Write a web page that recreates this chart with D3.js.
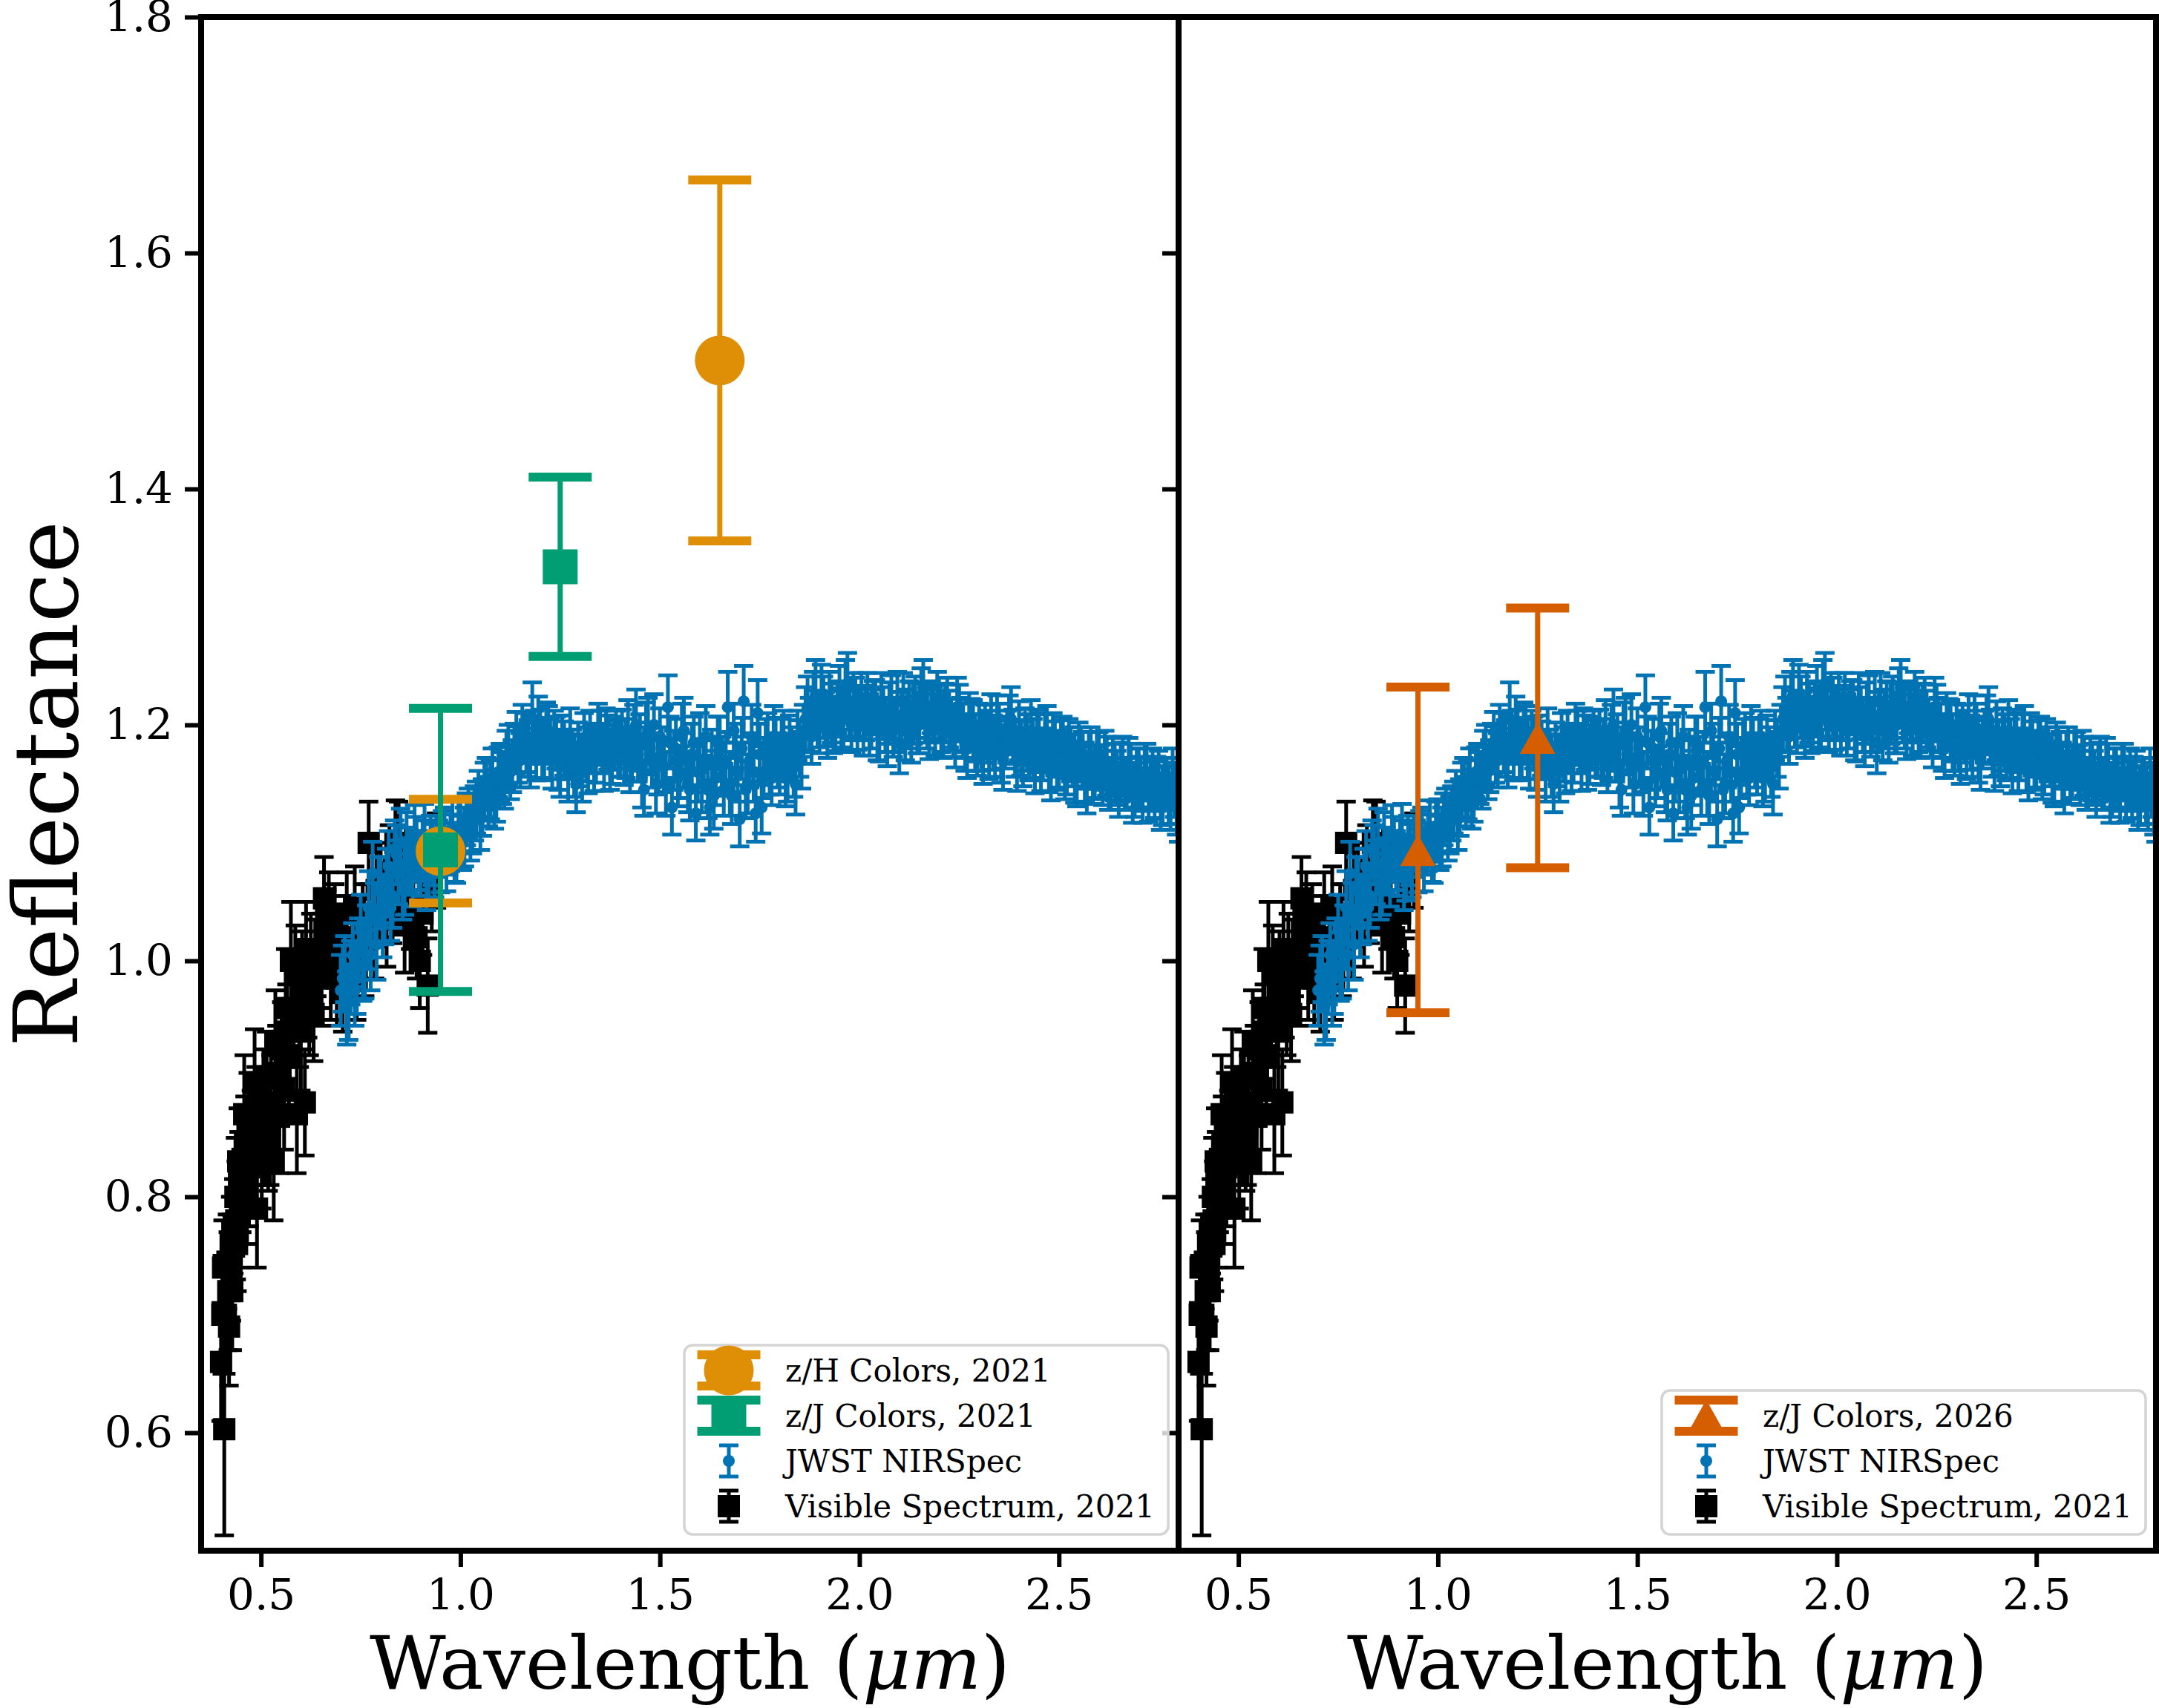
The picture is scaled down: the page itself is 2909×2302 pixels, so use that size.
<!DOCTYPE html>
<html>
<head>
<meta charset="utf-8">
<script src="https://cdn.jsdelivr.net/npm/d3@7"></script>
<style>
  body { margin: 0; background: #fff; }
  svg { display: block; font-family: "DejaVu Serif", serif; }
</style>
</head>
<body>
<svg id="chart" width="2909" height="2302"></svg>
<script>
// ---------- data ----------
// JWST NIRSpec spectrum (blue), whole-step channels
var blueWave = [
  0.70,0.71,0.72,0.73,0.74,0.75,0.76,0.77,0.78,0.79,
  0.80,0.81,0.82,0.83,0.84,0.85,0.86,0.87,0.88,0.89,
  0.90,0.91,0.92,0.93,0.94,0.95,0.96,0.97,0.98,0.99,
  1.00,1.01,1.02,1.03,1.04,1.05,1.06,1.07,1.08,1.09,
  1.10,1.11,1.12,1.13,1.14,1.15,1.16,1.17,1.18,1.19,
  1.20,1.21,1.22,1.23,1.24,1.25,1.26,1.27,1.28,1.29,
  1.30,1.31,1.32,1.33,1.34,1.35,1.36,1.37,1.38,1.39,
  1.40,1.41,1.42,1.43,1.44,1.45,1.46,1.47,1.48,1.49,
  1.50,1.51,1.52,1.53,1.54,1.55,1.56,1.57,1.58,1.59,
  1.60,1.61,1.62,1.63,1.64,1.65,1.66,1.67,1.68,1.69,
  1.70,1.71,1.72,1.73,1.74,1.75,1.76,1.77,1.78,1.79,
  1.80,1.81,1.82,1.83,1.84,1.85,1.86,1.87,1.88,1.89,
  1.90,1.91,1.92,1.93,1.94,1.95,1.96,1.97,1.98,1.99,
  2.00,2.01,2.02,2.03,2.04,2.05,2.06,2.07,2.08,2.09,
  2.10,2.11,2.12,2.13,2.14,2.15,2.16,2.17,2.18,2.19,
  2.20,2.21,2.22,2.23,2.24,2.25,2.26,2.27,2.28,2.29,
  2.30,2.31,2.32,2.33,2.34,2.35,2.36,2.37,2.38,2.39,
  2.40,2.41,2.42,2.43,2.44,2.45,2.46,2.47,2.48,2.49,
  2.50,2.51,2.52,2.53,2.54,2.55,2.56,2.57,2.58,2.59,
  2.60,2.61,2.62,2.63,2.64,2.65,2.66,2.67,2.68,2.69,
  2.70,2.71,2.72,2.73,2.74,2.75,2.76,2.77,2.78,2.79,
  2.80
];
var blueRefl = [
  0.975,0.993,0.965,1.005,0.985,1.030,0.997,1.045,1.074,1.014,
  1.060,1.040,1.080,1.055,1.090,1.100,1.065,1.085,1.070,1.095,
  1.080,1.105,1.075,1.090,1.100,1.085,1.105,1.095,1.110,1.090,
  1.115,1.105,1.125,1.115,1.130,1.120,1.145,1.135,1.155,1.140,
  1.160,1.150,1.175,1.165,1.185,1.170,1.190,1.180,1.205,1.175,
  1.190,1.180,1.195,1.170,1.185,1.165,1.180,1.160,1.175,1.150,
  1.170,1.185,1.165,1.180,1.175,1.190,1.170,1.185,1.175,1.190,
  1.180,1.170,1.195,1.175,1.200,1.185,1.145,1.195,1.170,1.150,
  1.190,1.165,1.215,1.130,1.180,1.160,1.195,1.150,1.175,1.125,
  1.185,1.165,1.145,1.170,1.155,1.180,1.145,1.215,1.140,1.175,
  1.120,1.220,1.150,1.190,1.125,1.175,1.160,1.185,1.155,1.180,
  1.165,1.190,1.160,1.175,1.150,1.180,1.195,1.215,1.190,1.225,
  1.200,1.215,1.195,1.210,1.200,1.220,1.205,1.235,1.200,1.215,
  1.210,1.200,1.220,1.205,1.215,1.195,1.210,1.190,1.215,1.200,
  1.185,1.220,1.205,1.190,1.215,1.200,1.232,1.205,1.215,1.200,
  1.210,1.195,1.215,1.200,1.190,1.210,1.195,1.180,1.200,1.185,
  1.195,1.175,1.190,1.200,1.180,1.195,1.170,1.190,1.205,1.180,
  1.195,1.170,1.185,1.195,1.165,1.185,1.175,1.190,1.160,1.180,
  1.170,1.185,1.165,1.175,1.160,1.180,1.170,1.150,1.175,1.160,
  1.170,1.155,1.165,1.150,1.160,1.145,1.165,1.150,1.160,1.145,
  1.155,1.140,1.160,1.150,1.145,1.155,1.140,1.150,1.135,1.145,
  1.125
];
var blueErr = [
  0.030,0.028,0.032,0.027,0.030,0.026,0.029,0.031,0.027,0.030,
  0.028,0.026,0.030,0.027,0.025,0.029,0.026,0.028,0.024,0.027,
  0.025,0.028,0.024,0.026,0.023,0.027,0.025,0.022,0.026,0.024,
  0.022,0.025,0.021,0.024,0.022,0.026,0.023,0.021,0.025,0.022,
  0.024,0.021,0.025,0.022,0.026,0.023,0.021,0.024,0.031,0.022,
  0.023,0.025,0.021,0.024,0.022,0.026,0.023,0.025,0.021,0.024,
  0.022,0.025,0.023,0.021,0.024,0.022,0.026,0.023,0.025,0.022,
  0.024,0.021,0.026,0.023,0.030,0.024,0.022,0.028,0.023,0.025,
  0.024,0.022,0.027,0.023,0.025,0.022,0.028,0.024,0.026,0.023,
  0.025,0.022,0.024,0.026,0.023,0.027,0.022,0.030,0.024,0.026,
  0.023,0.030,0.025,0.027,0.024,0.026,0.022,0.025,0.023,0.026,
  0.024,0.022,0.025,0.023,0.026,0.024,0.022,0.026,0.023,0.030,
  0.024,0.026,0.023,0.025,0.022,0.030,0.024,0.026,0.023,0.025,
  0.022,0.026,0.024,0.025,0.023,0.026,0.022,0.025,0.027,0.023,
  0.026,0.024,0.025,0.022,0.026,0.024,0.023,0.025,0.022,0.026,
  0.024,0.023,0.025,0.022,0.026,0.024,0.023,0.025,0.022,0.024,
  0.023,0.025,0.022,0.026,0.024,0.023,0.025,0.022,0.027,0.024,
  0.025,0.022,0.024,0.026,0.023,0.025,0.022,0.026,0.024,0.023,
  0.025,0.022,0.024,0.023,0.026,0.022,0.024,0.025,0.023,0.022,
  0.024,0.023,0.025,0.022,0.024,0.023,0.025,0.022,0.024,0.023,
  0.025,0.023,0.024,0.022,0.024,0.023,0.025,0.022,0.024,0.023,
  0.024
];

// JWST NIRSpec, half-step channels
var blueWave2 = [
  0.705,0.715,0.725,0.735,0.745,0.755,0.765,0.775,0.785,0.795,
  0.805,0.815,0.825,0.835,0.845,0.855,0.865,0.875,0.885,0.895,
  0.905,0.915,0.925,0.935,0.945,0.955,0.965,0.975,0.985,0.995,
  1.005,1.015,1.025,1.035,1.045,1.055,1.065,1.075,1.085,1.095,
  1.105,1.115,1.125,1.135,1.145,1.155,1.165,1.175,1.185,1.195,
  1.205,1.215,1.225,1.235,1.245,1.255,1.265,1.275,1.285,1.295,
  1.305,1.315,1.325,1.335,1.345,1.355,1.365,1.375,1.385,1.395,
  1.405,1.415,1.425,1.435,1.445,1.455,1.465,1.475,1.485,1.495,
  1.505,1.515,1.525,1.535,1.545,1.555,1.565,1.575,1.585,1.595,
  1.605,1.615,1.625,1.635,1.645,1.655,1.665,1.675,1.685,1.695,
  1.705,1.715,1.725,1.735,1.745,1.755,1.765,1.775,1.785,1.795,
  1.805,1.815,1.825,1.835,1.845,1.855,1.865,1.875,1.885,1.895,
  1.905,1.915,1.925,1.935,1.945,1.955,1.965,1.975,1.985,1.995,
  2.005,2.015,2.025,2.035,2.045,2.055,2.065,2.075,2.085,2.095,
  2.105,2.115,2.125,2.135,2.145,2.155,2.165,2.175,2.185,2.195,
  2.205,2.215,2.225,2.235,2.245,2.255,2.265,2.275,2.285,2.295,
  2.305,2.315,2.325,2.335,2.345,2.355,2.365,2.375,2.385,2.395,
  2.405,2.415,2.425,2.435,2.445,2.455,2.465,2.475,2.485,2.495,
  2.505,2.515,2.525,2.535,2.545,2.555,2.565,2.575,2.585,2.595,
  2.605,2.615,2.625,2.635,2.645,2.655,2.665,2.675,2.685,2.695,
  2.705,2.715,2.725,2.735,2.745,2.755,2.765,2.775,2.785,2.795
];
var blueRefl2 = [
  0.985,0.960,0.990,0.975,1.010,0.995,1.020,1.005,1.040,1.060,
  1.030,1.070,1.045,1.095,1.075,1.060,1.100,1.080,1.105,1.085,
  1.095,1.070,1.100,1.080,1.095,1.105,1.085,1.100,1.090,1.110,
  1.100,1.120,1.110,1.125,1.140,1.130,1.150,1.145,1.135,1.160,
  1.155,1.170,1.160,1.180,1.175,1.195,1.185,1.170,1.190,1.200,
  1.175,1.195,1.180,1.190,1.170,1.185,1.175,1.190,1.165,1.180,
  1.160,1.175,1.190,1.170,1.195,1.180,1.190,1.170,1.185,1.180,
  1.190,1.180,1.165,1.190,1.175,1.155,1.190,1.180,1.200,1.165,
  1.175,1.150,1.185,1.170,1.155,1.190,1.170,1.145,1.185,1.160,
  1.150,1.190,1.130,1.140,1.185,1.165,1.170,1.150,1.195,1.160,
  1.180,1.145,1.170,1.160,1.210,1.130,1.180,1.165,1.190,1.170,
  1.180,1.155,1.185,1.165,1.190,1.170,1.205,1.200,1.220,1.205,
  1.225,1.205,1.220,1.200,1.215,1.205,1.230,1.210,1.220,1.205,
  1.220,1.210,1.200,1.215,1.195,1.220,1.200,1.210,1.195,1.220,
  1.205,1.195,1.215,1.210,1.200,1.225,1.210,1.195,1.210,1.220,
  1.200,1.210,1.205,1.195,1.215,1.200,1.185,1.205,1.195,1.180,
  1.185,1.195,1.180,1.185,1.200,1.175,1.185,1.200,1.190,1.170,
  1.180,1.190,1.175,1.180,1.190,1.170,1.185,1.165,1.185,1.170,
  1.180,1.160,1.180,1.170,1.155,1.175,1.160,1.170,1.155,1.170,
  1.160,1.170,1.150,1.165,1.155,1.160,1.150,1.165,1.140,1.155,
  1.150,1.160,1.140,1.155,1.150,1.135,1.150,1.140,1.155,1.130
];
var blueErr2 = [
  0.028,0.031,0.027,0.030,0.026,0.029,0.027,0.030,0.026,0.028,
  0.027,0.025,0.028,0.024,0.027,0.025,0.026,0.024,0.027,0.025,
  0.024,0.027,0.023,0.026,0.024,0.022,0.026,0.024,0.023,0.025,
  0.023,0.022,0.025,0.023,0.021,0.024,0.022,0.025,0.023,0.021,
  0.022,0.025,0.023,0.021,0.024,0.022,0.025,0.023,0.022,0.024,
  0.022,0.024,0.026,0.022,0.025,0.023,0.021,0.024,0.026,0.022,
  0.025,0.023,0.022,0.026,0.023,0.021,0.024,0.025,0.022,0.024,
  0.023,0.025,0.022,0.027,0.023,0.025,0.029,0.022,0.026,0.024,
  0.023,0.027,0.022,0.025,0.024,0.028,0.023,0.026,0.022,0.025,
  0.024,0.026,0.023,0.028,0.022,0.025,0.024,0.027,0.023,0.025,
  0.026,0.024,0.023,0.025,0.028,0.022,0.025,0.024,0.026,0.023,
  0.025,0.024,0.023,0.026,0.022,0.024,0.027,0.023,0.025,0.024,
  0.026,0.023,0.025,0.024,0.022,0.026,0.025,0.023,0.024,0.026,
  0.024,0.023,0.026,0.022,0.025,0.024,0.023,0.026,0.022,0.025,
  0.023,0.025,0.022,0.026,0.024,0.023,0.025,0.024,0.022,0.025,
  0.023,0.025,0.024,0.022,0.025,0.023,0.024,0.022,0.026,0.023,
  0.024,0.022,0.026,0.023,0.025,0.024,0.022,0.025,0.023,0.026,
  0.023,0.024,0.022,0.025,0.023,0.026,0.024,0.022,0.025,0.023,
  0.024,0.023,0.025,0.022,0.024,0.023,0.025,0.024,0.022,0.024,
  0.023,0.025,0.022,0.024,0.023,0.025,0.022,0.024,0.023,0.025,
  0.023,0.024,0.022,0.025,0.023,0.024,0.022,0.024,0.025,0.023
];

// visible spectrum 2021 (black)
var visWave = [
  0.400,0.405,0.408,0.412,0.416,0.420,0.424,0.428,0.432,0.436,
  0.440,0.445,0.450,0.455,0.460,0.465,0.470,0.476,0.484,0.490,
  0.495,0.502,0.510,0.518,0.525,0.532,0.540,0.546,0.552,0.558,
  0.565,0.575,0.582,0.590,0.596,0.603,0.610,0.617,0.625,0.632,
  0.640,0.648,0.658,0.665,0.675,0.685,0.695,0.705,0.715,0.728,
  0.740,0.755,0.770,0.785,0.800,0.815,0.830,0.837,0.845,0.860,
  0.875,0.890,0.905,0.918,0.928,0.940
];
var visRefl = [
  0.660,0.740,0.603,0.700,0.745,0.690,0.760,0.720,0.775,0.800,
  0.760,0.815,0.790,0.830,0.845,0.800,0.825,0.850,0.897,0.790,
  0.860,0.830,0.860,0.845,0.880,0.830,0.905,0.870,0.925,0.890,
  0.940,1.000,0.960,0.870,0.950,0.985,0.880,0.975,1.000,0.955,
  1.010,0.985,1.053,1.020,0.990,1.030,1.005,0.975,1.040,1.010,
  0.985,1.030,1.100,1.020,1.060,1.035,1.050,1.100,1.095,1.030,
  1.045,1.020,1.040,0.979,1.060,1.085
];
var visErr = [
  0.05,0.04,0.09,0.05,0.04,0.05,0.04,0.05,0.04,0.05,
  0.04,0.04,0.05,0.04,0.04,0.04,0.05,0.04,0.045,0.05,
  0.04,0.04,0.05,0.04,0.04,0.05,0.04,0.05,0.04,0.05,
  0.04,0.05,0.04,0.05,0.04,0.04,0.045,0.04,0.04,0.04,
  0.04,0.04,0.035,0.04,0.04,0.035,0.04,0.035,0.035,0.035,
  0.035,0.035,0.035,0.035,0.04,0.04,0.035,0.036,0.04,0.04,
  0.035,0.035,0.035,0.04,0.035,0.04
];
// visible spectrum, interleaved channels
var visWave2 = [
  0.403,0.418,0.426,0.438,0.443,0.452,0.458,0.468,0.480,0.488,
  0.506,0.514,0.522,0.536,0.549,0.562,0.570,0.586,0.600,0.613,
  0.621,0.636,0.652,0.670,0.690,0.710,0.735,0.760,0.790,0.822,
  0.852,0.882,0.898
];
var visRefl2 = [
  0.700,0.720,0.740,0.780,0.830,0.810,0.870,0.860,0.830,0.860,
  0.880,0.900,0.860,0.930,0.900,0.960,0.920,0.990,0.940,1.010,
  0.960,0.990,1.000,1.035,0.985,1.020,1.045,1.005,1.060,1.075,
  1.060,1.075,1.000
];
var visErr2 = [
  0.05,0.05,0.045,0.05,0.045,0.04,0.05,0.045,0.04,0.05,
  0.045,0.04,0.05,0.045,0.04,0.05,0.045,0.04,0.05,0.04,
  0.04,0.045,0.04,0.04,0.04,0.035,0.035,0.035,0.035,0.04,
  0.035,0.035,0.04
];

// photometric colors
var zhWave = [0.95, 1.65];
var zhRefl = [1.093, 1.509];
var zhErr = [0.044, 0.153];

var zjWave = [0.95, 1.25];
var zjRefl = [1.094, 1.334];
var zjErr = [0.120, 0.076];

var zj26Wave = [0.95, 1.25];
var zj26Refl = [1.094, 1.189];
var zj26Err = [0.138, 0.110];

var xTicks = [0.5, 1.0, 1.5, 2.0, 2.5];
var yTicks = [0.6, 0.8, 1.0, 1.2, 1.4, 1.6, 1.8];

var legendLeft = ["z/H Colors, 2021", "z/J Colors, 2021", "JWST NIRSpec", "Visible Spectrum, 2021"];
var legendRight = ["z/J Colors, 2026", "JWST NIRSpec", "Visible Spectrum, 2021"];

// colors (seaborn colorblind)
var colors = {
  zh: "#de8f05",
  zj: "#029e73",
  zj26: "#d55e00",
  jwst: "#0173b2",
  vis: "#000000"
};

// marker / bar styles
var styles = {
  vis:  {color: colors.vis,  marker: "square",   size: 30, cap: 26, capW: 5,  lw: 5},
  jwst: {color: colors.jwst, marker: "circle",   size: 16, cap: 26, capW: 5,  lw: 5},
  zh:   {color: colors.zh,   marker: "circle",   size: 67, cap: 85, capW: 12, lw: 7},
  zj:   {color: colors.zj,   marker: "square",   size: 47, cap: 85, capW: 12, lw: 7},
  zj26: {color: colors.zj26, marker: "triangle", size: 48, cap: 85, capW: 12, lw: 7}
};

// merge channels
var visAll = {w: visWave.concat(visWave2), r: visRefl.concat(visRefl2), e: visErr.concat(visErr2)};
var blueAll = {w: blueWave.concat(blueWave2), r: blueRefl.concat(blueRefl2), e: blueErr.concat(blueErr2)};

// ---------- layout ----------
var svg = d3.select("#chart");
var plotTop = 23, plotBottom = 2090;
var panels = [
  {x0: 271, x1: 1588},
  {x0: 1588, x1: 2905}
];

var y = d3.scaleLinear().domain([0.5, 1.8]).range([plotBottom, plotTop]);

svg.append("rect").attr("width", 2909).attr("height", 2302).attr("fill", "#fff");

function drawMarker(g, type, color, cx, cy, size) {
  if (type === "circle") {
    g.append("circle").attr("cx", cx).attr("cy", cy).attr("r", size / 2).attr("fill", color);
  } else if (type === "square") {
    g.append("rect").attr("x", cx - size / 2).attr("y", cy - size / 2)
      .attr("width", size).attr("height", size).attr("fill", color);
  } else {
    var h = size * 0.9;
    g.append("path")
      .attr("d", "M" + cx + "," + (cy - h / 2) + "L" + (cx + size / 2) + "," + (cy + h / 2) +
        "L" + (cx - size / 2) + "," + (cy + h / 2) + "Z")
      .attr("fill", color);
  }
}

function errorbar(g, x, wave, refl, err, st) {
  var idx = d3.range(wave.length);
  var eg = g.append("g");
  eg.selectAll(null).data(idx).join("line")
    .attr("x1", i => x(wave[i])).attr("x2", i => x(wave[i]))
    .attr("y1", i => y(refl[i] - err[i])).attr("y2", i => y(refl[i] + err[i]))
    .attr("stroke", st.color).attr("stroke-width", st.lw);
  [-1, 1].forEach(function(s) {
    eg.selectAll(null).data(idx).join("line")
      .attr("x1", i => x(wave[i]) - st.cap / 2).attr("x2", i => x(wave[i]) + st.cap / 2)
      .attr("y1", i => y(refl[i] + s * err[i])).attr("y2", i => y(refl[i] + s * err[i]))
      .attr("stroke", st.color).attr("stroke-width", st.capW);
  });
  idx.forEach(function(i) {
    drawMarker(eg, st.marker, st.color, x(wave[i]), y(refl[i]), st.size);
  });
}

function legendHandle(g, st, cx, cy) {
  var half = 21;
  g.append("line").attr("x1", cx).attr("x2", cx).attr("y1", cy - half).attr("y2", cy + half)
    .attr("stroke", st.color).attr("stroke-width", st.lw);
  drawMarker(g, st.marker, st.color, cx, cy, st.size);
  [-half, half].forEach(function(d) {
    g.append("line").attr("x1", cx - st.cap / 2).attr("x2", cx + st.cap / 2)
      .attr("y1", cy + d).attr("y2", cy + d)
      .attr("stroke", st.color).attr("stroke-width", st.capW);
  });
}

function legend(labels, keys, right) {
  var rowH = 61, w = 652, bottomY = 2068;
  var h = labels.length * rowH + 11;
  var lx = right - 14 - w, ly = bottomY - h;
  var g = svg.append("g");
  g.append("rect").attr("x", lx).attr("y", ly).attr("width", w).attr("height", h)
    .attr("rx", 11).attr("fill", "#fff").attr("fill-opacity", 0.8)
    .attr("stroke", "#d4d4d4").attr("stroke-width", 3.5);
  labels.forEach(function(lab, i) {
    var baseline = ly + 49 + i * rowH;
    legendHandle(g, styles[keys[i]], lx + 60, baseline - 15);
    g.append("text").attr("x", lx + 136).attr("y", baseline)
      .attr("font-size", 42).attr("fill", "#000").text(lab);
  });
}

panels.forEach(function(p, pi) {
  var x = d3.scaleLinear().domain([0.35, 2.8]).range([p.x0, p.x1]);

  svg.append("clipPath").attr("id", "clip" + pi)
    .append("rect").attr("x", p.x0).attr("y", plotTop).attr("width", p.x1 - p.x0).attr("height", plotBottom - plotTop);

  var plot = svg.append("g").attr("clip-path", "url(#clip" + pi + ")");
  errorbar(plot, x, visAll.w, visAll.r, visAll.e, styles.vis);
  errorbar(plot, x, blueAll.w, blueAll.r, blueAll.e, styles.jwst);
  if (pi === 0) {
    errorbar(plot, x, zhWave, zhRefl, zhErr, styles.zh);
    errorbar(plot, x, zjWave, zjRefl, zjErr, styles.zj);
  } else {
    errorbar(plot, x, zj26Wave, zj26Refl, zj26Err, styles.zj26);
  }

  // x axis
  var xa = svg.append("g").attr("transform", "translate(0," + plotBottom + ")")
    .call(d3.axisBottom(x).tickValues(xTicks).tickSize(22).tickPadding(16).tickFormat(d3.format(".1f")));
  xa.select(".domain").remove();
  xa.selectAll(".tick line").attr("stroke", "#000").attr("stroke-width", 6);
  xa.selectAll(".tick text").attr("font-size", 58).attr("font-family", "DejaVu Serif").attr("fill", "#000");

  // y axis
  var ya = svg.append("g").attr("transform", "translate(" + p.x0 + ",0)")
    .call(d3.axisLeft(y).tickValues(yTicks).tickSize(22).tickPadding(16)
      .tickFormat(pi === 0 ? d3.format(".1f") : ""));
  ya.select(".domain").remove();
  ya.selectAll(".tick line").attr("stroke", "#000").attr("stroke-width", 6);
  ya.selectAll(".tick text").attr("font-size", 58).attr("font-family", "DejaVu Serif").attr("fill", "#000");

  // x label
  var xl = svg.append("text").attr("x", (p.x0 + p.x1) / 2).attr("y", 2276)
    .attr("text-anchor", "middle").attr("font-size", 100).attr("fill", "#000");
  xl.append("tspan").text("Wavelength (");
  xl.append("tspan").attr("font-style", "italic").text("μm");
  xl.append("tspan").text(")");
});

legend(legendLeft, ["zh", "zj", "jwst", "vis"], panels[0].x1);
legend(legendRight, ["zj26", "jwst", "vis"], panels[1].x1);

// spines
panels.forEach(function(p) {
  svg.append("rect").attr("x", p.x0).attr("y", plotTop).attr("width", p.x1 - p.x0).attr("height", plotBottom - plotTop)
    .attr("fill", "none").attr("stroke", "#000").attr("stroke-width", 8);
});

// y label
svg.append("text").attr("transform", "translate(104," + (plotTop + plotBottom) / 2 + ") rotate(-90)")
  .attr("text-anchor", "middle").attr("font-size", 119).attr("fill", "#000").text("Reflectance");
</script>
</body>
</html>
